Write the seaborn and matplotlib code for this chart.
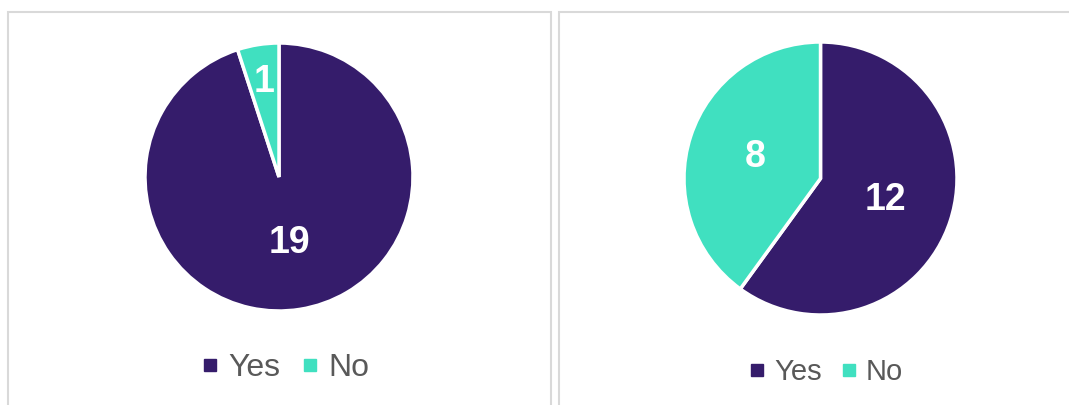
import matplotlib
matplotlib.use("Agg")
import matplotlib.pyplot as plt
import numpy as np
import seaborn as sns
from matplotlib.lines import Line2D
from matplotlib.patches import Rectangle

# data
categories = ["Yes", "No"]
left_values = [19, 1]
right_values = [12, 8]
colors = ["#351C6B", "#40E0C0"]

sns.set_theme(style="white")
plt.rcParams["font.family"] = ["Liberation Sans", "DejaVu Sans"]

W, H = 1069, 405
fig = plt.figure(figsize=(W / 100, H / 100), dpi=100)


def px_box(x0, y0, x1, y1):
    # pixel box (top-left origin) -> figure fraction rect
    return [x0 / W, 1 - y1 / H, (x1 - x0) / W, (y1 - y0) / H]


# panel frames
for x0, x1 in [(8, 551), (559, 1085)]:
    fig.add_artist(Rectangle((x0 / W, -20 / H), (x1 - x0) / W, (H - 12 + 20) / H,
                             transform=fig.transFigure, fill=False,
                             edgecolor="#d9d9d9", linewidth=1.5))


def draw_pie(box, values, legend_center, legend_size):
    ax = fig.add_axes(px_box(*box))
    wedges, _, autotexts = ax.pie(values, colors=colors, startangle=90, counterclock=False,
                                  autopct=lambda p: f"{p * sum(values) / 100:.0f}",
                                  pctdistance=0.5,
                                  wedgeprops=dict(edgecolor="white", linewidth=2.5),
                                  textprops=dict(color="white", fontsize=27, fontweight="bold"))
    total = sum(values)
    for w, t, v in zip(wedges, autotexts, values):
        if v / total < 0.1:
            # small slice: push the label outward like Excel does
            mid = np.deg2rad((w.theta1 + w.theta2) / 2)
            t.set_position((0.72 * np.cos(mid), 0.72 * np.sin(mid)))
    ax.set_xlim(-1, 1)
    ax.set_ylim(-1, 1)
    ax.set_aspect("auto")
    ax.axis("off")
    handles = [Line2D([], [], marker="s", linestyle="none", markersize=8.5,
                      markerfacecolor=c, markeredgecolor=c) for c in colors]
    fig.legend(handles, categories, loc="center",
               bbox_to_anchor=(legend_center[0] / W, 1 - legend_center[1] / H),
               ncol=2, frameon=False, fontsize=legend_size, labelcolor="#595959",
               handlelength=0.55, handletextpad=0.3, columnspacing=0.65,
               borderpad=0, borderaxespad=0)


draw_pie((145, 43, 413, 311), left_values, (285, 368), 23)
draw_pie((684, 42, 957, 315), right_values, (826, 372), 21)

fig.savefig("out.png", dpi=100)
